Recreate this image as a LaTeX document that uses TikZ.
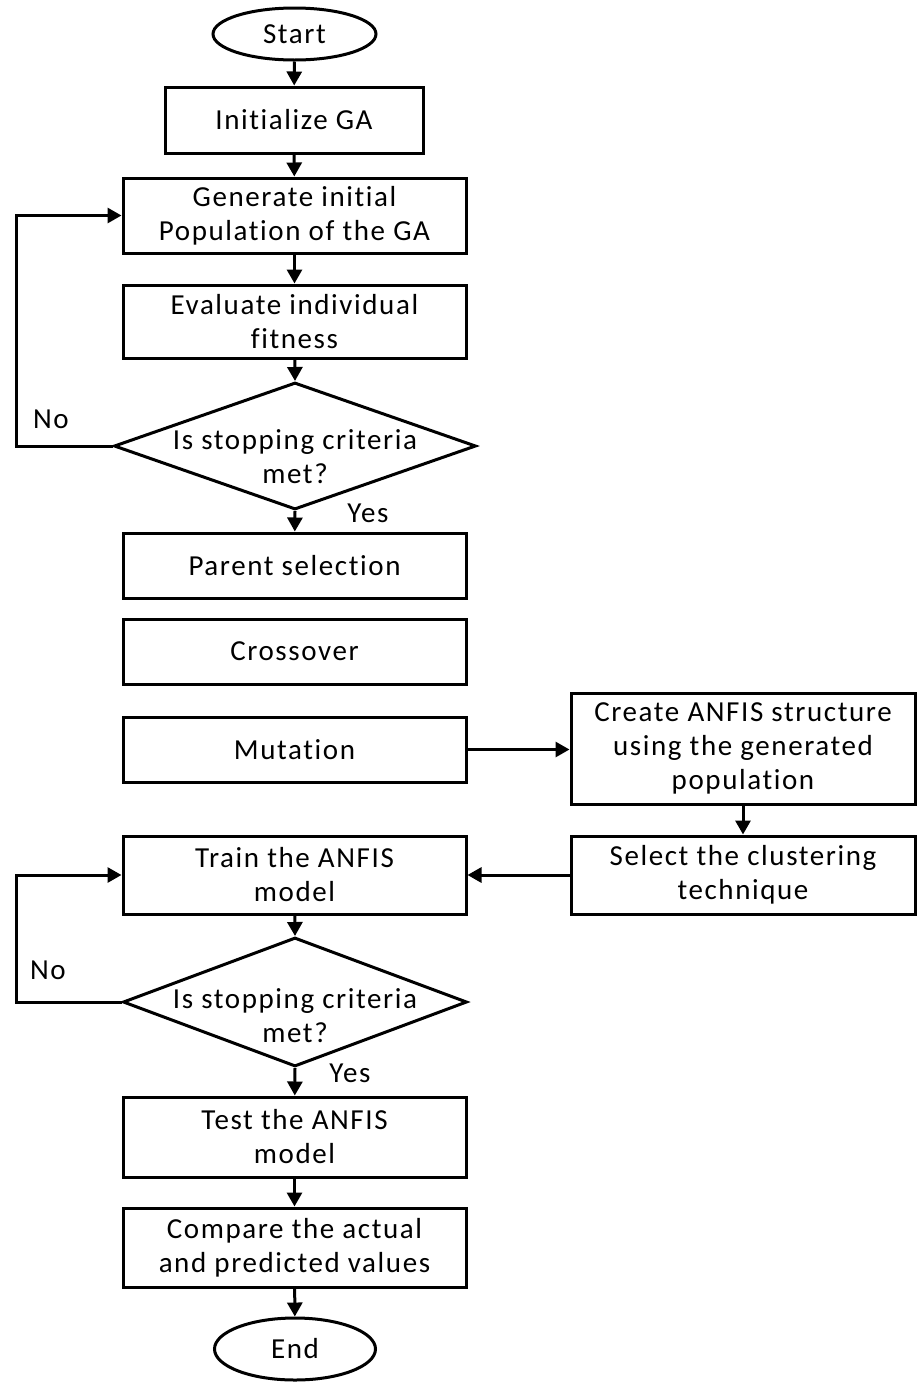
\documentclass[tikz,border=0pt]{standalone}
\usepackage{fontspec}
\setmainfont{Carlito}[LetterSpace=5.5,Ligatures=CommonOff]
\usetikzlibrary{shapes.geometric,arrows.meta}
\begin{document}
\begin{tikzpicture}[x=1pt,y=-1pt,
  every node/.style={font=\fontsize{29}{34}\selectfont, align=center, inner sep=0pt},
  box/.style={draw, line width=3pt, rectangle, minimum width=343pt},
  term/.style={draw, line width=3pt, ellipse},
  decision/.style={draw, line width=3pt, diamond},
  arr/.style={line width=3pt, -{Triangle[length=14pt,width=15pt]}}]
\useasboundingbox (0,0) rectangle (920,1382);
\node[term, minimum width=163pt, minimum height=52pt] (start) at (294.5,34) {Start};
\node[box, minimum width=258pt, minimum height=66pt] (init) at (294,120) {Initialize GA};
\node[box, minimum height=75pt] (gen) at (294.5,215.5) {Generate initial\\Population of the GA};
\node[box, minimum height=73pt] (eval) at (294.5,321.5) {Evaluate individual\\fitness};
\node[decision, minimum width=362pt, minimum height=127pt] (d1) at (295,446) {};
\node (d1t) at ([yshift=-11pt]d1.center) {Is stopping criteria\\met?};
\node[box, minimum height=65pt] (parent) at (294.5,565.5) {Parent selection};
\node[box, minimum height=65pt] (cross) at (294.5,651.5) {Crossover};
\node[box, minimum height=65pt] (mut) at (294.5,749.5) {Mutation};
\node[box, minimum width=344pt, minimum height=111pt] (create) at (743,748.5) {Create ANFIS structure\\using the generated\\population};
\node[box, minimum width=344pt, minimum height=78pt] (select) at (743,875) {Select the clustering\\technique};
\node[box, minimum height=78pt] (train) at (294.5,875) {Train the ANFIS\\model};
\node[decision, minimum width=344pt, minimum height=129pt] (d2) at (295,1002) {};
\node (d2t) at ([yshift=-14pt]d2.center) {Is stopping criteria\\met?};
\node[box, minimum height=80pt] (test) at (294.5,1137) {Test the ANFIS\\model};
\node[box, minimum height=79pt] (comp) at (294.5,1247.5) {Compare the actual\\and predicted values};
\node[term, minimum width=161pt, minimum height=62pt] (end) at (295,1349) {End};
\node (no1) at (51,419) {No};
\node (yes1) at (368,513) {Yes};
\node (no2) at (48,970) {No};
\node (yes2) at (350,1073) {Yes};
\coordinate (c1) at (16,446);
\coordinate (c2) at (16,1002);
\draw[arr] (start) -- (init);
\draw[arr] (init) -- (gen);
\draw[arr] (gen) -- (eval);
\draw[arr] (eval) -- (d1.north);
\draw[arr] (d1.south) -- (parent);
\draw[arr] (d1.west) -- (c1) |- (gen.west);
\draw[arr] (mut.east) -- (mut.east -| create.west);
\draw[arr] (create) -- (select);
\draw[arr] (select) -- (train);
\draw[arr] (train) -- (d2.north);
\draw[arr] (d2.west) -- (c2) |- (train.west);
\draw[arr] (d2.south) -- (test);
\draw[arr] (test) -- (comp);
\draw[arr] (comp) -- (end);
\end{tikzpicture}
\end{document}
